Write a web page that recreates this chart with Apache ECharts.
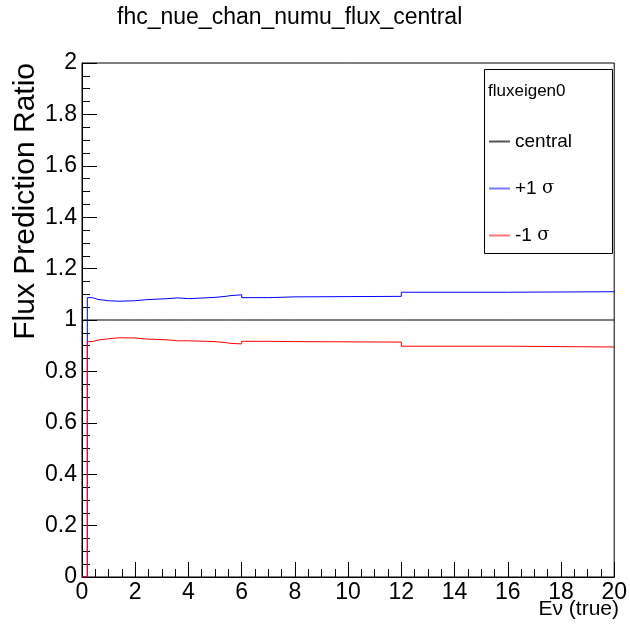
<!DOCTYPE html>
<html>
<head>
<meta charset="utf-8">
<script src="https://cdn.jsdelivr.net/npm/echarts@6/dist/echarts.min.js"></script>
<style>
  html, body { margin: 0; padding: 0; background: #fff; }
  #chart { width: 630px; height: 624px; }
</style>
</head>
<body>
<div id="chart"></div>
<script>
// bin edges (GeV) and per-bin ratios
const binEdges = [0, 0.2, 0.4, 0.6, 1.0, 1.4, 2.0, 2.4, 3.2, 3.6, 4.0, 5.0, 5.4, 5.6, 6.0, 7, 8, 12, 16, 20]
const centralVals = [1, 1, 1, 1, 1, 1, 1, 1, 1, 1, 1, 1, 1, 1, 1, 1, 1, 1, 1]
const plusVals = [0, 1.087, 1.080, 1.075, 1.073, 1.075, 1.079, 1.083, 1.086, 1.083, 1.088, 1.092, 1.095, 1.098, 1.087, 1.090, 1.092, 1.108, 1.110]
const minusVals = [0, 0.916, 0.922, 0.927, 0.931, 0.930, 0.926, 0.923, 0.919, 0.919, 0.916, 0.912, 0.909, 0.907, 0.917, 0.916, 0.914, 0.898, 0.895]

const font = 'Liberation Sans, Arial, Helvetica, sans-serif'

// histogram -> step points (last edge repeats last value)
function toSteps (vals) {
  const pts = vals.map((v, i) => [binEdges[i], v])
  pts.push([binEdges[binEdges.length - 1], vals[vals.length - 1]])
  return pts
}

const chart = echarts.init(document.getElementById('chart'), null, { renderer: 'canvas' })

const sigma = { fontFamily: 'DejaVu Serif, Times New Roman, serif', fontSize: 18, color: '#000' }

chart.setOption({
  animation: false,
  backgroundColor: '#fff',
  grid: {
    left: 82, right: 11, top: 63, bottom: 47,
    show: true, borderColor: '#000', borderWidth: 1, backgroundColor: 'transparent'
  },
  xAxis: {
    type: 'value', min: 0, max: 20, interval: 2,
    axisLine: { onZero: false, lineStyle: { color: '#000', width: 1 } },
    axisTick: { inside: true, length: 15, lineStyle: { color: '#000' } },
    minorTick: { show: true, splitNumber: 4, length: 8, lineStyle: { color: '#000' } },
    splitLine: { show: false },
    axisLabel: { color: '#000', fontSize: 23, fontFamily: font, margin: 4, showMinLabel: true, showMaxLabel: true }
  },
  yAxis: {
    type: 'value', min: 0, max: 2, interval: 0.2,
    axisLine: { onZero: false, lineStyle: { color: '#000', width: 1 } },
    axisTick: { inside: true, length: 15, lineStyle: { color: '#000' } },
    minorTick: { show: true, splitNumber: 4, length: 8, lineStyle: { color: '#000' } },
    splitLine: { show: false },
    axisLabel: {
      color: '#000', fontSize: 23, fontFamily: font, margin: 5,
      formatter: v => (Math.abs(v - Math.round(v)) < 1e-9 ? String(Math.round(v)) : v.toFixed(1))
    }
  },
  legend: {
    left: 484, top: 127, orient: 'vertical', itemGap: 28,
    itemWidth: 21, itemHeight: 2, icon: 'rect',
    selectedMode: false,
    textStyle: { color: '#000', fontSize: 19, fontFamily: font, rich: { s: sigma } },
    formatter: name => name === 'central' ? 'central' : name.replace('σ', '{s|σ}'),
    data: ['central', '+1 σ', '-1 σ']
  },
  graphic: [
    {
      type: 'rect', left: 484, top: 69,
      shape: { width: 128, height: 184 },
      style: { fill: '#fff', stroke: '#000', lineWidth: 1 },
      z: 0
    },
    {
      type: 'text', left: 488, top: 83,
      style: { text: 'fluxeigen0', fontSize: 17, fontFamily: font, fill: '#000' },
      z: 10
    },
    {
      type: 'text', left: 117, top: 6,
      style: { text: 'fhc_nue_chan_numu_flux_central', fontSize: 23, fontFamily: font, fill: '#000' }
    },
    {
      type: 'text', x: 11, y: 63, rotation: Math.PI / 2,
      style: { text: 'Flux Prediction Ratio', fontSize: 30, fontFamily: font, fill: '#000', align: 'right', verticalAlign: 'top' }
    },
    {
      type: 'text', x: 619, y: 599,
      style: { text: 'Eν (true)', fontSize: 21, fontFamily: font, fill: '#000', align: 'right', verticalAlign: 'top' }
    }
  ],
  series: [
    {
      name: 'central', type: 'line', step: 'end', data: toSteps(centralVals),
      showSymbol: false, lineStyle: { color: '#000', width: 1 }, itemStyle: { color: '#555' }
    },
    {
      name: '+1 σ', type: 'line', step: 'end', data: toSteps(plusVals),
      showSymbol: false, lineStyle: { color: '#0000ff', width: 1 }, itemStyle: { color: '#7878ff' }
    },
    {
      name: '-1 σ', type: 'line', step: 'end', data: toSteps(minusVals),
      showSymbol: false, lineStyle: { color: '#ff0000', width: 1 }, itemStyle: { color: '#ff7878' }
    }
  ]
})
</script>
</body>
</html>
